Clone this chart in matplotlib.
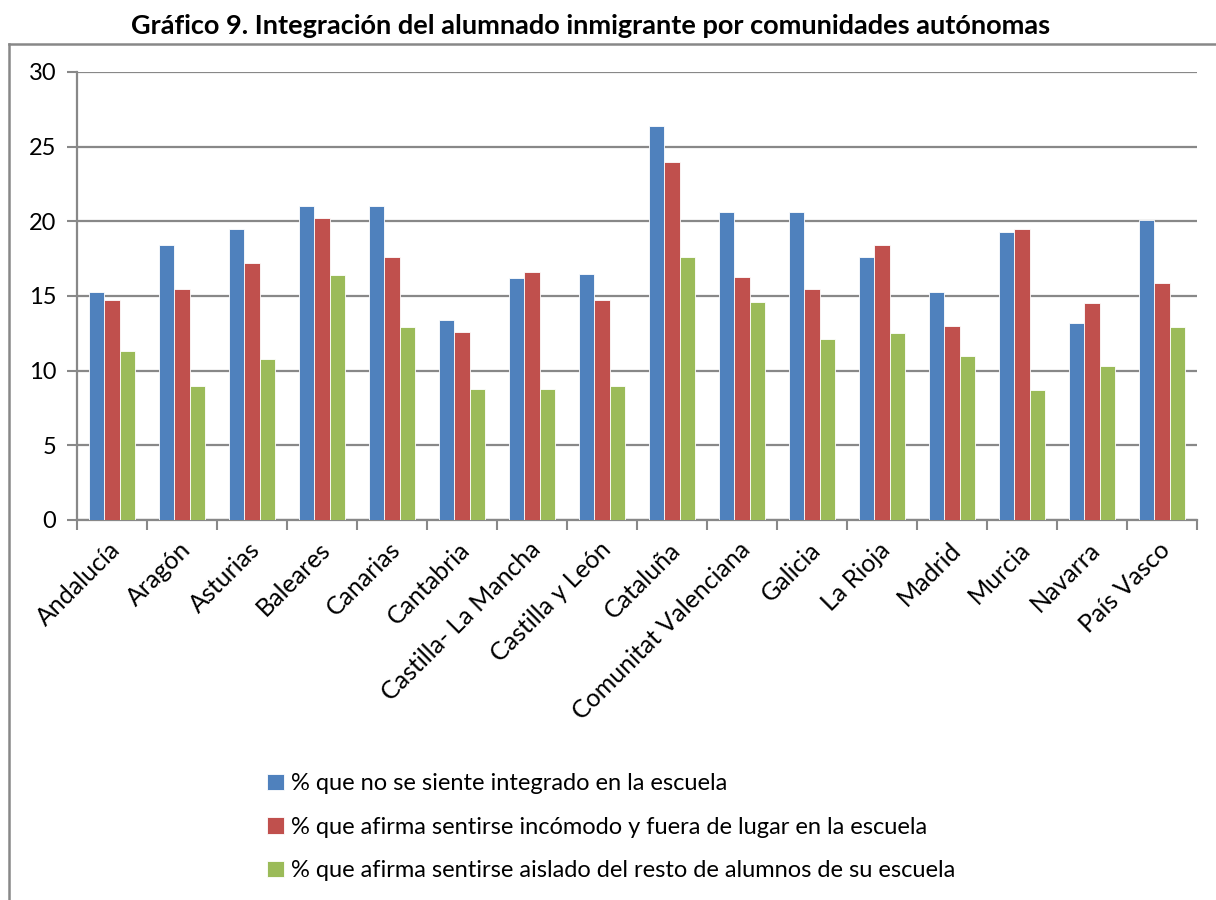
import numpy as np
import matplotlib.pyplot as plt
from matplotlib.lines import Line2D

plt.rcParams['font.family'] = ['Lato', 'DejaVu Sans']

# Data
COMUNIDADES = ["Andalucía", "Aragón", "Asturias", "Baleares", "Canarias", "Cantabria",
               "Castilla- La Mancha", "Castilla y León", "Cataluña", "Comunitat Valenciana",
               "Galicia", "La Rioja", "Madrid", "Murcia", "Navarra", "País Vasco"]
NO_INTEGRADO = [15.3, 18.4, 19.5, 21.0, 21.0, 13.4, 16.2, 16.5, 26.4, 20.6,
                20.6, 17.6, 15.3, 19.3, 13.2, 20.1]
INCOMODO = [14.7, 15.5, 17.2, 20.2, 17.6, 12.6, 16.6, 14.7, 24.0, 16.3,
            15.5, 18.4, 13.0, 19.5, 14.5, 15.9]
AISLADO = [11.3, 9.0, 10.8, 16.4, 12.9, 8.8, 8.8, 9.0, 17.6, 14.6,
           12.1, 12.5, 11.0, 8.7, 10.3, 12.9]
LABELS = ["% que no se siente integrado en la escuela",
          "% que afirma sentirse incómodo y fuera de lugar en la escuela",
          "% que afirma sentirse aislado del resto de alumnos de su escuela"]
COLORS = ["#4F81BD", "#C0504D", "#9BBB59"]

fig = plt.figure(figsize=(12.16, 9.0), dpi=100)
ax = fig.add_axes([77 / 1216, 1 - 520 / 900, 1120 / 1216, 448 / 900])

x = np.arange(len(COMUNIDADES))
w = 0.222
handles = []
for i, (vals, col, lab) in enumerate(zip([NO_INTEGRADO, INCOMODO, AISLADO], COLORS, LABELS)):
    b = ax.bar(x + (i - 1) * w, vals, width=w, color=col, edgecolor='white',
               linewidth=0.6, label=lab, zorder=3)
    handles.append(b)

ax.set_xlim(-0.5, len(COMUNIDADES) - 0.5)
ax.set_ylim(0, 30)
ax.set_yticks(range(0, 31, 5))
ax.yaxis.grid(True, color='#888888', linewidth=1.6, zorder=0)
ax.set_axisbelow(True)

# category separators as ticks on the x axis
ax.set_xticks(np.arange(-0.5, len(COMUNIDADES)), minor=False)
ax.set_xticklabels([])
ax.tick_params(axis='x', direction='out', length=7, width=1.5, color='#888888')
ax.tick_params(axis='y', direction='out', length=7, width=1.5, color='#888888',
               labelsize=17, pad=8)
for s in ['top', 'right']:
    ax.spines[s].set_visible(False)
for s in ['left', 'bottom']:
    ax.spines[s].set_color('#888888')
    ax.spines[s].set_linewidth(1.6)

for xi, name in zip(x, COMUNIDADES):
    ax.text(xi - 0.05, -1.2, name, rotation=45, rotation_mode='anchor',
            ha='right', va='top', fontsize=18)

fig.text(591 / 1216, 1 - 26 / 900,
         "Gráfico 9. Integración del alumnado inmigrante por comunidades autónomas",
         ha='center', va='center', fontsize=19.5, fontweight='bold')

# chart frame (left and top edges)
fig.add_artist(Line2D([9 / 1216, 9 / 1216], [0, 1 - 44 / 900], color='#888888', linewidth=1.8))
fig.add_artist(Line2D([9 / 1216, 1], [1 - 44 / 900, 1 - 44 / 900], color='#888888', linewidth=1.8))

leg = fig.legend(handles=handles, loc='upper left', bbox_to_anchor=(246 / 1216, 1 - 752 / 900),
                 frameon=False, fontsize=17, handlelength=0.7, handleheight=0.7,
                 handletextpad=0.3, labelspacing=0.95)

fig.savefig("out.png", dpi=100)
